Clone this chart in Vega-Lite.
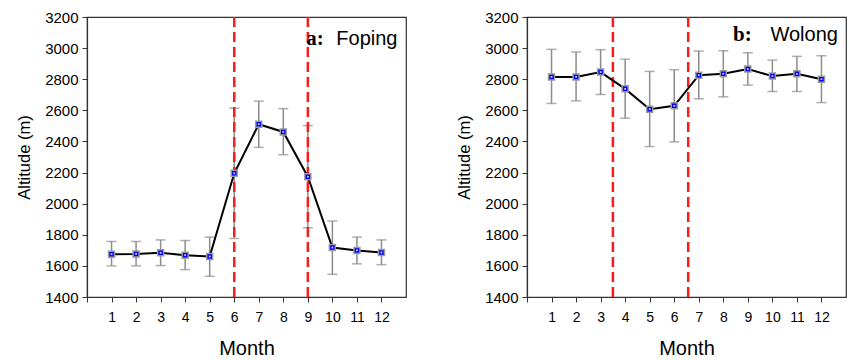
{
  "$schema": "https://vega.github.io/schema/vega-lite/v6.json",
  "background": "white",
  "padding": {"left": 16, "top": 9, "right": 0, "bottom": 0},
  "spacing": 49,
  "datasets": {
    "foping": [
      {"month": 1, "alt": 1675, "lo": 1600, "hi": 1757},
      {"month": 2, "alt": 1677, "lo": 1600, "hi": 1757},
      {"month": 3, "alt": 1684, "lo": 1602, "hi": 1767},
      {"month": 4, "alt": 1669, "lo": 1576, "hi": 1763},
      {"month": 5, "alt": 1660, "lo": 1533, "hi": 1785},
      {"month": 6, "alt": 2195, "lo": 1776, "hi": 2614},
      {"month": 7, "alt": 2511, "lo": 2362, "hi": 2659},
      {"month": 8, "alt": 2461, "lo": 2315, "hi": 2611},
      {"month": 9, "alt": 2173, "lo": 1845, "hi": 2502},
      {"month": 10, "alt": 1718, "lo": 1546, "hi": 1888},
      {"month": 11, "alt": 1699, "lo": 1613, "hi": 1785},
      {"month": 12, "alt": 1686, "lo": 1608, "hi": 1767}
    ],
    "wolong": [
      {"month": 1, "alt": 2815, "lo": 2644, "hi": 2992},
      {"month": 2, "alt": 2815, "lo": 2661, "hi": 2975},
      {"month": 3, "alt": 2846, "lo": 2702, "hi": 2990},
      {"month": 4, "alt": 2738, "lo": 2549, "hi": 2929},
      {"month": 5, "alt": 2607, "lo": 2367, "hi": 2850},
      {"month": 6, "alt": 2629, "lo": 2397, "hi": 2861},
      {"month": 7, "alt": 2826, "lo": 2674, "hi": 2981},
      {"month": 8, "alt": 2835, "lo": 2687, "hi": 2983},
      {"month": 9, "alt": 2865, "lo": 2762, "hi": 2970},
      {"month": 10, "alt": 2820, "lo": 2721, "hi": 2923},
      {"month": 11, "alt": 2835, "lo": 2721, "hi": 2947},
      {"month": 12, "alt": 2800, "lo": 2650, "hi": 2951}
    ],
    "foping_lines": [{"m": 6}, {"m": 9}],
    "wolong_lines": [{"m": 3.5}, {"m": 6.57}]
  },
  "config": {
    "view": {"stroke": "#333", "strokeWidth": 1.2},
    "axis": {
      "grid": false,
      "domainColor": "#333",
      "domainWidth": 1.2,
      "tickColor": "#333",
      "tickSize": 5,
      "labelFont": "Liberation Sans",
      "labelFontSize": 14,
      "labelColor": "#000",
      "labelFlush": false,
      "titleFont": "Liberation Sans",
      "titleFontWeight": "normal",
      "titleColor": "#000"
    },
    "axisX": {"labelPadding": 8, "titleFontSize": 20, "titlePadding": 14},
    "axisY": {"labelPadding": 4, "labelFontSize": 15, "titleFontSize": 16.5, "titlePadding": 12}
  },
  "hconcat": [
    {
      "width": 319,
      "height": 280,
      "layer": [
        {
          "data": {"name": "foping"},
          "mark": {"type": "rule", "color": "#8c8c8c", "strokeWidth": 1.5},
          "encoding": {
            "x": {"field": "month", "type": "quantitative", "scale": {"domain": [0, 13], "nice": false, "zero": false},
              "axis": {"title": "Month", "labelOverlap": false, "tickCount": 13, "values": [0,1,2,3,4,5,6,7,8,9,10,11,12], "labelExpr": "datum.value == 0 ? '' : datum.label"}},
            "y": {"field": "lo", "type": "quantitative", "scale": {"domain": [1400, 3200], "nice": false, "zero": false},
              "axis": {"title": "Altitude (m)", "labelOverlap": false, "tickCount": 10, "format": "d", "values": [1400,1600,1800,2000,2200,2400,2600,2800,3000,3200]}},
            "y2": {"field": "hi"}
          }
        },
        {
          "data": {"name": "foping"},
          "mark": {"type": "tick", "orient": "horizontal", "color": "#8c8c8c", "size": 10, "thickness": 1.5},
          "encoding": {
            "x": {"field": "month", "type": "quantitative"},
            "y": {"field": "lo", "type": "quantitative"}
          }
        },
        {
          "data": {"name": "foping"},
          "mark": {"type": "tick", "orient": "horizontal", "color": "#8c8c8c", "size": 10, "thickness": 1.5},
          "encoding": {
            "x": {"field": "month", "type": "quantitative"},
            "y": {"field": "hi", "type": "quantitative"}
          }
        },
        {
          "data": {"name": "foping_lines"},
          "mark": {"type": "rule", "color": "#ff1a1a", "strokeWidth": 2.5, "strokeDash": [10, 5]},
          "encoding": {"x": {"field": "m", "type": "quantitative"}}
        },
        {
          "data": {"name": "foping"},
          "mark": {"type": "line", "color": "#000", "strokeWidth": 2},
          "encoding": {
            "x": {"field": "month", "type": "quantitative"},
            "y": {"field": "alt", "type": "quantitative"}
          }
        },
        {
          "data": {"name": "foping"},
          "mark": {"type": "point", "shape": "square", "filled": true, "fill": "#0000ff", "stroke": "#9a9a9a", "strokeWidth": 1.5, "size": 36, "opacity": 1},
          "encoding": {
            "x": {"field": "month", "type": "quantitative"},
            "y": {"field": "alt", "type": "quantitative"}
          }
        },
        {
          "data": {"name": "foping"},
          "mark": {"type": "point", "shape": "square", "filled": true, "fill": "#d8d8ff", "size": 3, "opacity": 1},
          "encoding": {
            "x": {"field": "month", "type": "quantitative"},
            "y": {"field": "alt", "type": "quantitative"}
          }
        },
        {
          "data": {"values": [{"t": "a:"}]},
          "mark": {"type": "text", "font": "Liberation Serif", "fontWeight": "bold", "fontSize": 21, "align": "left", "baseline": "alphabetic", "color": "#000"},
          "encoding": {
            "x": {"datum": 8.94, "type": "quantitative"},
            "y": {"datum": 3020, "type": "quantitative"},
            "text": {"field": "t"}
          }
        },
        {
          "data": {"values": [{"t": "Foping"}]},
          "mark": {"type": "text", "font": "Liberation Sans", "fontSize": 20, "align": "left", "baseline": "alphabetic", "color": "#000"},
          "encoding": {
            "x": {"datum": 10.16, "type": "quantitative"},
            "y": {"datum": 3020, "type": "quantitative"},
            "text": {"field": "t"}
          }
        }
      ]
    },
    {
      "width": 319,
      "height": 280,
      "layer": [
        {
          "data": {"name": "wolong"},
          "mark": {"type": "rule", "color": "#8c8c8c", "strokeWidth": 1.5},
          "encoding": {
            "x": {"field": "month", "type": "quantitative", "scale": {"domain": [0, 13], "nice": false, "zero": false},
              "axis": {"title": "Month", "labelOverlap": false, "tickCount": 13, "values": [0,1,2,3,4,5,6,7,8,9,10,11,12], "labelExpr": "datum.value == 0 ? '' : datum.label"}},
            "y": {"field": "lo", "type": "quantitative", "scale": {"domain": [1400, 3200], "nice": false, "zero": false},
              "axis": {"title": "Altitude (m)", "labelOverlap": false, "tickCount": 10, "format": "d", "values": [1400,1600,1800,2000,2200,2400,2600,2800,3000,3200]}},
            "y2": {"field": "hi"}
          }
        },
        {
          "data": {"name": "wolong"},
          "mark": {"type": "tick", "orient": "horizontal", "color": "#8c8c8c", "size": 10, "thickness": 1.5},
          "encoding": {
            "x": {"field": "month", "type": "quantitative"},
            "y": {"field": "lo", "type": "quantitative"}
          }
        },
        {
          "data": {"name": "wolong"},
          "mark": {"type": "tick", "orient": "horizontal", "color": "#8c8c8c", "size": 10, "thickness": 1.5},
          "encoding": {
            "x": {"field": "month", "type": "quantitative"},
            "y": {"field": "hi", "type": "quantitative"}
          }
        },
        {
          "data": {"name": "wolong_lines"},
          "mark": {"type": "rule", "color": "#ff1a1a", "strokeWidth": 2.5, "strokeDash": [10, 5]},
          "encoding": {"x": {"field": "m", "type": "quantitative"}}
        },
        {
          "data": {"name": "wolong"},
          "mark": {"type": "line", "color": "#000", "strokeWidth": 2},
          "encoding": {
            "x": {"field": "month", "type": "quantitative"},
            "y": {"field": "alt", "type": "quantitative"}
          }
        },
        {
          "data": {"name": "wolong"},
          "mark": {"type": "point", "shape": "square", "filled": true, "fill": "#0000ff", "stroke": "#9a9a9a", "strokeWidth": 1.5, "size": 36, "opacity": 1},
          "encoding": {
            "x": {"field": "month", "type": "quantitative"},
            "y": {"field": "alt", "type": "quantitative"}
          }
        },
        {
          "data": {"name": "wolong"},
          "mark": {"type": "point", "shape": "square", "filled": true, "fill": "#d8d8ff", "size": 3, "opacity": 1},
          "encoding": {
            "x": {"field": "month", "type": "quantitative"},
            "y": {"field": "alt", "type": "quantitative"}
          }
        },
        {
          "data": {"values": [{"t": "b:"}]},
          "mark": {"type": "text", "font": "Liberation Serif", "fontWeight": "bold", "fontSize": 21, "align": "left", "baseline": "alphabetic", "color": "#000"},
          "encoding": {
            "x": {"datum": 8.4, "type": "quantitative"},
            "y": {"datum": 3045, "type": "quantitative"},
            "text": {"field": "t"}
          }
        },
        {
          "data": {"values": [{"t": "Wolong"}]},
          "mark": {"type": "text", "font": "Liberation Sans", "fontSize": 20, "align": "left", "baseline": "alphabetic", "color": "#000"},
          "encoding": {
            "x": {"datum": 9.92, "type": "quantitative"},
            "y": {"datum": 3045, "type": "quantitative"},
            "text": {"field": "t"}
          }
        }
      ]
    }
  ]
}
